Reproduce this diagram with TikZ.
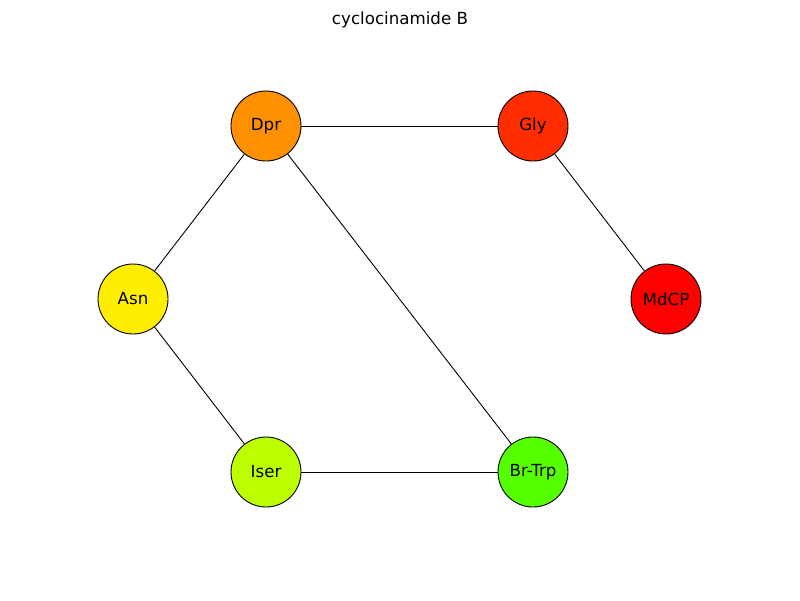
\documentclass[tikz,border=0pt]{standalone}
\usepackage{fontspec}
\setmainfont{DejaVu Sans}
\definecolor{cDpr}{HTML}{FF9100}
\definecolor{cGly}{HTML}{FF2D00}
\definecolor{cMdCP}{HTML}{FF0000}
\definecolor{cAsn}{HTML}{FFEE00}
\definecolor{cIser}{HTML}{BBFF00}
\definecolor{cBrTrp}{HTML}{55FF00}
\begin{document}
\begin{tikzpicture}[x=1pt,y=-1pt,
  res/.style={circle,draw=black,line width=0.9pt,minimum size=70pt,inner sep=0pt,font=\fontsize{16.67}{20}\selectfont},
  bond/.style={draw=black,line width=0.9pt}]
\useasboundingbox (0,0) rectangle (800,600);
\node[font=\fontsize{16.67}{20}\selectfont] (title) at (400,20) {cyclocinamide B};
\node[res,fill=cDpr] (dpr) at (266,126) {Dpr};
\node[res,fill=cGly] (gly) at (533,126) {Gly};
\node[res,fill=cAsn] (asn) at (133,299) {Asn};
\node[res,fill=cMdCP] (mdcp) at (666,299) {MdCP};
\node[res,fill=cIser] (iser) at (266,472) {Iser};
\node[res,fill=cBrTrp] (brtrp) at (533,472) {Br-Trp};
\draw[bond] (dpr) -- (gly);
\draw[bond] (gly) -- (mdcp);
\draw[bond] (dpr) -- (asn);
\draw[bond] (dpr) -- (brtrp);
\draw[bond] (asn) -- (iser);
\draw[bond] (iser) -- (brtrp);
\end{tikzpicture}
\end{document}
